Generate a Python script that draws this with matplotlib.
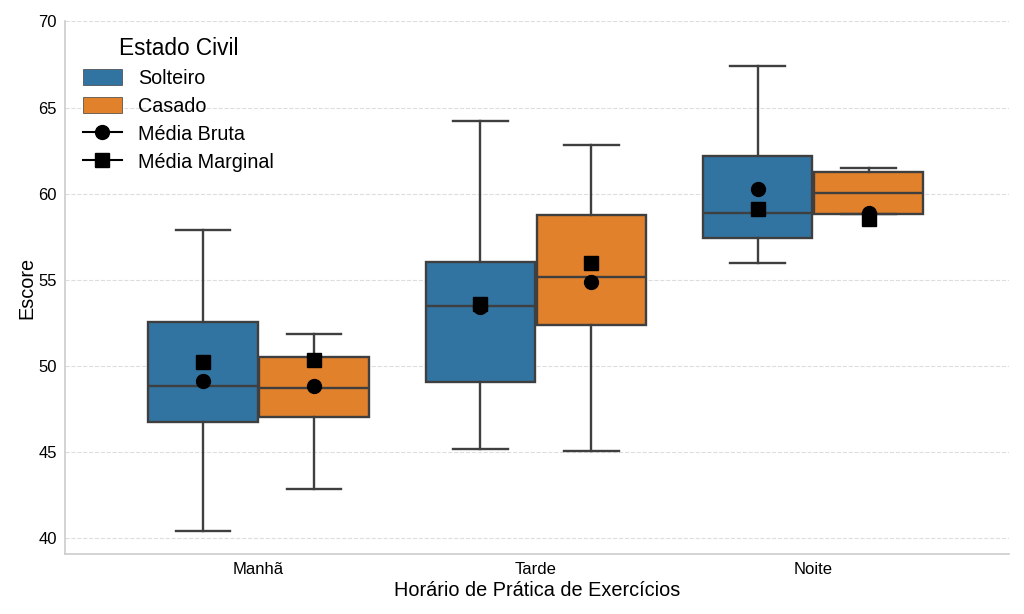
import numpy as np
import matplotlib
matplotlib.use("Agg")
import matplotlib.pyplot as plt
from matplotlib.patches import Patch
from matplotlib.lines import Line2D

plt.rcParams['font.family'] = ['Liberation Sans', 'DejaVu Sans']

# dados
horarios = ["Manhã", "Tarde", "Noite"]
estados = ["Solteiro", "Casado"]

# estatísticas das caixas: [whislo, q1, med, q3, whishi]
solteiro_stats = [
    [40.45, 46.78, 48.85, 52.53, 57.87],
    [45.20, 49.10, 53.48, 56.03, 64.25],
    [55.97, 57.45, 58.90, 62.17, 67.41],
]
casado_stats = [
    [42.88, 47.07, 48.72, 50.50, 51.87],
    [45.06, 52.40, 55.16, 58.78, 62.82],
    [58.84, 58.84, 60.02, 61.29, 61.49],
]

media_bruta_solteiro = [49.16, 53.42, 60.25]
media_bruta_casado = [48.87, 54.87, 58.87]
media_marginal_solteiro = [50.23, 53.60, 59.09]
media_marginal_casado = [50.34, 56.00, 58.53]

cores = ["#3274a1", "#e1812c"]
cor_linha = "#3f3f3f"


def make_stats(rows):
    out = []
    for lo, q1, med, q3, hi in rows:
        out.append(dict(whislo=lo, q1=q1, med=med, q3=q3, whishi=hi, fliers=[]))
    return out


fig, ax = plt.subplots(figsize=(10.24, 6.14), dpi=100)
fig.subplots_adjust(left=0.0635, right=0.985, top=0.965, bottom=0.098)

x = np.arange(len(horarios))
offset = 0.2
largura = 0.395

for stats, pos_off, cor in [(solteiro_stats, -offset, cores[0]), (casado_stats, offset, cores[1])]:
    ax.bxp(make_stats(stats), positions=x + pos_off, widths=largura,
           patch_artist=True, showfliers=False, manage_ticks=False,
           boxprops=dict(facecolor=cor, edgecolor=cor_linha, linewidth=1.7),
           medianprops=dict(color=cor_linha, linewidth=1.7),
           whiskerprops=dict(color=cor_linha, linewidth=1.7),
           capprops=dict(color=cor_linha, linewidth=1.7),
           capwidths=largura / 2, zorder=2)

# médias
ax.plot(x - offset, media_bruta_solteiro, 'o', color='black', markersize=10, zorder=4)
ax.plot(x + offset, media_bruta_casado, 'o', color='black', markersize=10, zorder=4)
ax.plot(x - offset, media_marginal_solteiro, 's', color='black', markersize=10, zorder=5)
ax.plot(x + offset, media_marginal_casado, 's', color='black', markersize=10, zorder=5)

ax.set_xticks(x)
ax.set_xticklabels(horarios, fontsize=12)
ax.set_xlim(-0.698, 2.705)
ax.set_ylim(39.1, 70)
ax.set_yticks(np.arange(40, 71, 5))
ax.tick_params(axis='y', labelsize=12)
ax.tick_params(length=0, pad=6)

ax.set_xlabel("Horário de Prática de Exercícios", fontsize=14.3, labelpad=3)
ax.set_ylabel("Escore", fontsize=14.3, labelpad=1)

ax.grid(axis='y', linestyle='--', color='#dddddd', linewidth=0.8, zorder=0)
ax.set_axisbelow(True)
for s in ['top', 'right']:
    ax.spines[s].set_visible(False)
for s in ['left', 'bottom']:
    ax.spines[s].set_color('#cccccc')
    ax.spines[s].set_linewidth(1.2)

handles = [
    Patch(facecolor=cores[0], edgecolor=cor_linha, linewidth=0.5, label=estados[0]),
    Patch(facecolor=cores[1], edgecolor=cor_linha, linewidth=0.5, label=estados[1]),
    Line2D([0], [0], color='black', marker='o', markersize=10, linewidth=1.5, label="Média Bruta"),
    Line2D([0], [0], color='black', marker='s', markersize=10, linewidth=1.5, label="Média Marginal"),
]
leg = ax.legend(handles=handles, title="Estado Civil", loc='upper left',
                bbox_to_anchor=(0.0, 1.004), frameon=False, fontsize=14.2,
                title_fontsize=16.3, handlelength=2.0, handleheight=0.85,
                handletextpad=0.8, labelspacing=0.45)

plt.savefig("out.png", dpi=100)
